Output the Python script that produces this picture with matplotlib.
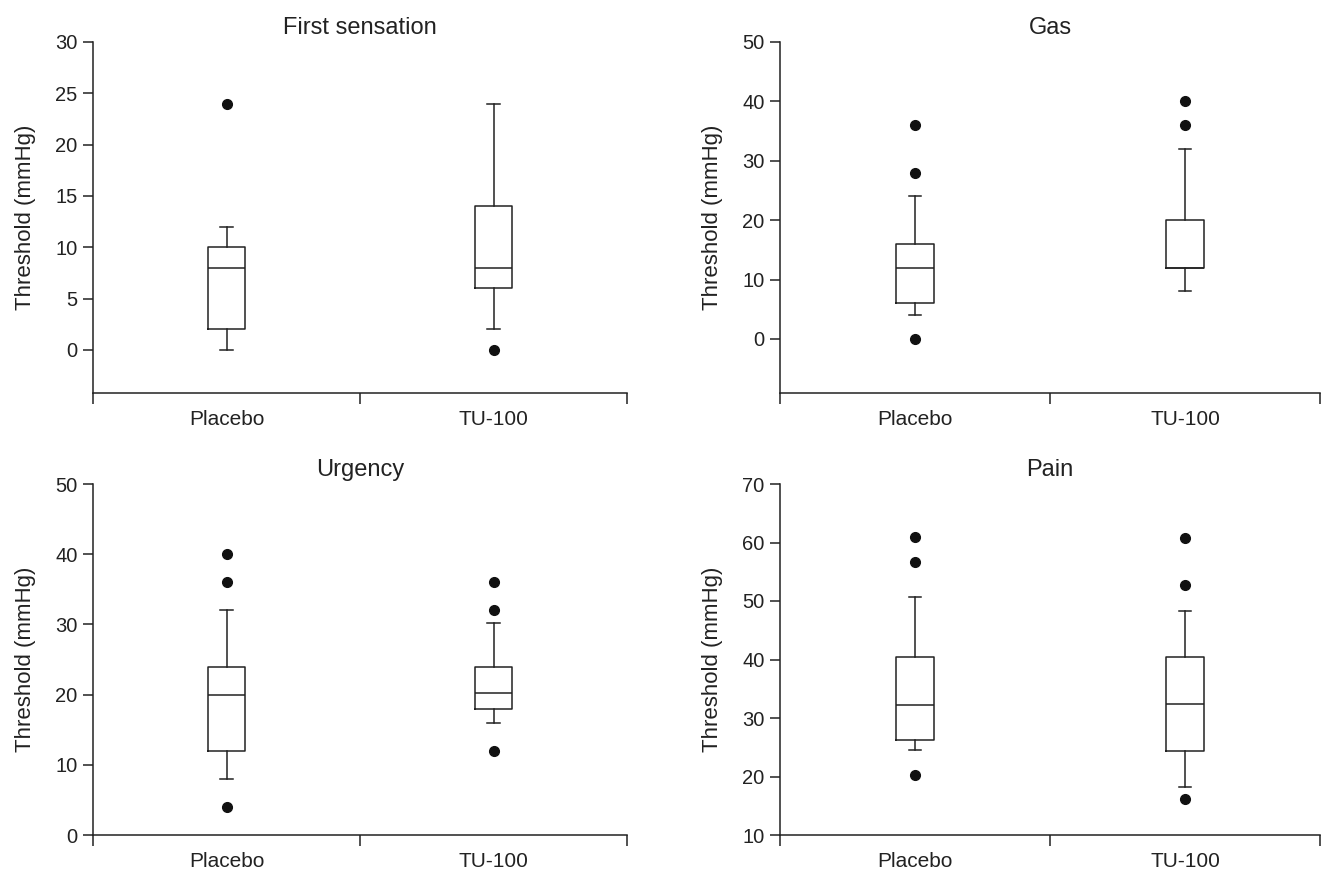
import matplotlib
matplotlib.use("Agg")
import matplotlib.pyplot as plt
from matplotlib.ticker import FixedLocator

groups = ["Placebo", "TU-100"]
titles = ["First sensation", "Gas", "Urgency", "Pain"]

# box stats per panel: [placebo, tu-100]
whislo = [[0, 2], [4, 8], [8, 16], [24.5, 18.2]]
q1 = [[2, 6], [6, 12], [12, 18], [26.3, 24.3]]
med = [[8, 8], [12, 12], [20, 20.2], [32.3, 32.4]]
q3 = [[10, 14], [16, 20], [24, 24], [40.5, 40.5]]
whishi = [[12, 24], [24, 32], [32, 30.2], [50.6, 48.3]]
fliers = [[[24], [0]],
          [[0, 28, 36], [36, 40]],
          [[4, 36, 40], [12, 32, 36]],
          [[20.3, 56.6, 61], [16.2, 52.8, 60.7]]]

ylims = [(-4.2, 30), (-9.1, 50), (0, 50), (10, 70)]
yticks = [[0, 5, 10, 15, 20, 25, 30], [0, 10, 20, 30, 40, 50],
          [0, 10, 20, 30, 40, 50], [10, 20, 30, 40, 50, 60, 70]]

positions = [(93, 42, 534, 351), (780, 42, 540, 351),
             (93, 484, 534, 351), (780, 484, 540, 351)]

W, H = 1325, 872
fig = plt.figure(figsize=(W / 100, H / 100), dpi=100)
fam = ["Liberation Sans", "DejaVu Sans"]
ink = "#222222"

for i in range(4):
    x0, y0, w, h = positions[i]
    ax = fig.add_axes([x0 / W, 1 - (y0 + h) / H, w / W, h / H])
    stats = []
    for j in range(2):
        stats.append(dict(whislo=whislo[i][j], q1=q1[i][j], med=med[i][j],
                          q3=q3[i][j], whishi=whishi[i][j], fliers=fliers[i][j]))
    ax.bxp(stats, positions=[0.5, 1.5], widths=0.14, capwidths=0.045,
           showfliers=True,
           boxprops=dict(color=ink, linewidth=1.1),
           medianprops=dict(color=ink, linewidth=1.1),
           whiskerprops=dict(color=ink, linewidth=1.1),
           capprops=dict(color=ink, linewidth=1.1),
           flierprops=dict(marker="o", markerfacecolor="#111111",
                           markeredgecolor="#111111", markersize=7))
    ax.set_xlim(0, 2)
    ax.set_ylim(*ylims[i])
    ax.set_yticks(yticks[i])
    ax.set_yticklabels([str(t) for t in yticks[i]], family=fam, fontsize=14.5,
                       color=ink)
    ax.set_xticks([0.5, 1.5])
    ax.set_xticklabels(groups, family=fam, fontsize=15, color=ink)
    ax.xaxis.set_minor_locator(FixedLocator([0, 1, 2]))
    ax.tick_params(axis="x", which="major", length=0, pad=12)
    ax.tick_params(axis="x", which="minor", length=8, width=1.1,
                   direction="out", color=ink)
    ax.tick_params(axis="y", length=7, width=1.1, direction="out", pad=4,
                   color=ink)
    for s in ["top", "right"]:
        ax.spines[s].set_visible(False)
    for s in ["left", "bottom"]:
        ax.spines[s].set_linewidth(1.1)
        ax.spines[s].set_color(ink)
    ax.set_title(titles[i], family=fam, fontsize=17, pad=6, color=ink)
    ax.set_ylabel("Threshold (mmHg)", family=fam, fontsize=16, labelpad=14,
                  color=ink)

fig.savefig("out.png", dpi=100)
